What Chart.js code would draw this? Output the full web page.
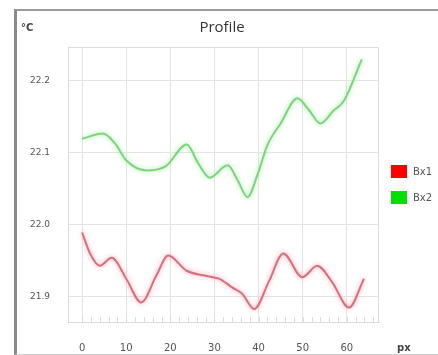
<!DOCTYPE html>
<html>
<head>
<meta charset="utf-8">
<script src="https://cdn.jsdelivr.net/npm/chart.js@4"></script>
<style>
  html, body { margin: 0; padding: 0; background: #fff; }
  #wrap { position: relative; width: 438px; height: 355px; overflow: hidden; }
  #frame { position: absolute; left: 14px; top: 9px; width: 440px; height: 343px;
           border-left: 3px solid #8a8a8a; border-top: 2px solid #999; border-bottom: 1px solid #d0d0d0; }
  canvas { position: absolute; left: 0; top: 0; }
</style>
</head>
<body>
<div id="wrap">
  <div id="frame"></div>
  <canvas id="chartCanvas" width="438" height="355"></canvas>
</div>
<script>
const seriesNames = ['Bx1', 'Bx2'];
const seriesColors = ['#ff0000', '#00e000'];

const bx1X = [0, 1.8, 4, 6.7, 10, 13.4, 16.8, 19.5, 23.7, 28, 31, 34, 36.3, 39, 42.4, 45.6, 49.9, 53.3, 56.7, 60.5, 63.9];
const bx1Y = [21.989, 21.960, 21.943, 21.954, 21.925, 21.892, 21.929, 21.957, 21.936, 21.929, 21.925, 21.913, 21.904, 21.883, 21.922, 21.960, 21.927, 21.943, 21.920, 21.885, 21.925];

const bx2X = [0, 4.7, 7.5, 10, 14.6, 19, 23.7, 26.3, 28.9, 33, 35.2, 37.5, 39.7, 42, 45, 48.8, 51.5, 54, 57, 59.4, 63.4];
const bx2Y = [22.119, 22.126, 22.112, 22.089, 22.075, 22.081, 22.111, 22.085, 22.065, 22.082, 22.062, 22.038, 22.068, 22.110, 22.140, 22.175, 22.158, 22.140, 22.158, 22.172, 22.229];

const xTicks = [0, 10, 20, 30, 40, 50, 60];
const yTicks = [21.9, 22.0, 22.1, 22.2];

const ctx = document.getElementById('chartCanvas').getContext('2d');

// halo around the lines
const glow = {
  id: 'glow',
  beforeDatasetDraw(chart, args) {
    const c = chart.ctx;
    c.save();
    c.shadowColor = args.index === 0 ? 'rgba(255,150,170,0.9)' : 'rgba(150,240,150,0.9)';
    c.shadowBlur = 5;
  },
  afterDatasetDraw(chart) {
    chart.ctx.restore();
  }
};

const extras = {
  id: 'extras',
  beforeDatasetsDraw(chart) {
    const c = chart.ctx;
    const a = chart.chartArea;
    const xs = chart.scales.x;
    c.save();
    c.strokeStyle = '#dcdcdc';
    c.lineWidth = 1;
    // box top + right
    c.beginPath();
    c.moveTo(a.left, a.top + 0.5);
    c.lineTo(a.right - 0.5, a.top + 0.5);
    c.lineTo(a.right - 0.5, a.bottom);
    c.stroke();
    // minor ticks along the bottom
    for (let v = 0; v <= 66; v += 2) {
      const px = Math.round(xs.getPixelForValue(v)) + 0.5;
      c.beginPath();
      c.moveTo(px, a.bottom);
      c.lineTo(px, a.bottom - 5);
      c.stroke();
    }
    c.restore();
  },
  afterDraw(chart) {
    const c = chart.ctx;
    c.save();
    c.fillStyle = '#333';
    c.font = '15px "Open Sans", sans-serif';
    c.textAlign = 'center';
    c.textBaseline = 'middle';
    c.fillText('Profile', 222, 28);

    c.font = 'bold 10px "DejaVu Sans", sans-serif';
    c.textAlign = 'left';
    c.fillStyle = '#444';
    c.fillText('°C', 21, 28);
    c.fillText('px', 397, 348);

    // legend
    c.font = '10px "DejaVu Sans", sans-serif';
    chart.data.datasets.forEach((ds, i) => {
      const y = 165 + i * 26;
      c.fillStyle = seriesColors[i];
      c.fillRect(391, y, 16, 13);
      c.fillStyle = '#555';
      c.textBaseline = 'middle';
      c.fillText(ds.label, 413, y + 7);
    });
    c.restore();
  }
};

const chart = new Chart(ctx, {
  type: 'line',
  data: {
    datasets: [
      {
        label: seriesNames[0],
        data: bx1X.map((x, i) => ({ x: x, y: bx1Y[i] })),
        borderColor: '#d8707c',
        borderWidth: 2,
        pointRadius: 0,
        cubicInterpolationMode: 'monotone',
        fill: false
      },
      {
        label: seriesNames[1],
        data: bx2X.map((x, i) => ({ x: x, y: bx2Y[i] })),
        borderColor: '#7cd47c',
        borderWidth: 2,
        pointRadius: 0,
        cubicInterpolationMode: 'monotone',
        fill: false
      }
    ]
  },
  options: {
    responsive: false,
    animation: false,
    layout: { padding: { left: 20, top: 47, right: 59, bottom: 0 } },
    plugins: {
      legend: { display: false },
      title: { display: false },
      tooltip: { enabled: false }
    },
    scales: {
      x: {
        type: 'linear',
        min: -3.2,
        max: 67.3,
        afterBuildTicks: s => { s.ticks = xTicks.map(v => ({ value: v })); },
        afterFit: s => { s.height = 33; },
        grid: { color: '#e4e4e4', drawTicks: false },
        border: { color: '#dcdcdc' },
        ticks: {
          color: '#555',
          padding: 20,
          font: { size: 10, family: '"DejaVu Sans", sans-serif' }
        }
      },
      y: {
        type: 'linear',
        min: 21.865,
        max: 22.246,
        afterBuildTicks: s => { s.ticks = yTicks.map(v => ({ value: v })); },
        afterFit: s => { s.width = 48; },
        grid: { color: '#e4e4e4', drawTicks: false },
        border: { color: '#dcdcdc' },
        ticks: {
          color: '#555',
          padding: 18,
          font: { size: 9, family: '"DejaVu Sans", sans-serif' },
          callback: v => v.toFixed(1)
        }
      }
    }
  },
  plugins: [glow, extras]
});
</script>
</body>
</html>
